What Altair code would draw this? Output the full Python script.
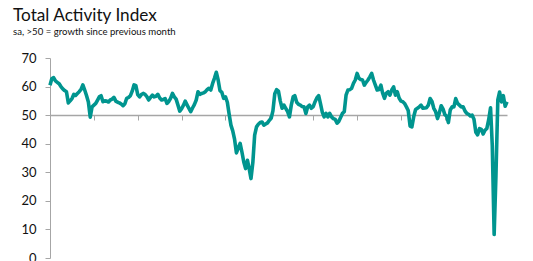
import altair as alt
import pandas as pd

TITLE = "Total Activity Index"
SUBTITLE = "sa, >50 = growth since previous month"

# Monthly index values, Jan 2000 - Nov 2020
v2000 = [60.5, 62.8, 63.1, 62.0, 61.5, 61.0, 60.0, 59.2, 58.6, 58.2, 54.3, 55.0]
v2001 = [55.8, 57.3, 56.9, 57.6, 58.2, 59.0, 60.6, 58.8, 56.8, 54.6, 49.3, 52.9]
v2002 = [53.5, 54.1, 55.2, 56.4, 56.8, 54.7, 55.0, 54.9, 54.6, 55.3, 55.6, 56.2]
v2003 = [54.9, 54.5, 54.3, 53.9, 53.3, 54.0, 55.9, 56.2, 56.8, 58.4, 60.6, 60.3]
v2004 = [57.2, 56.4, 57.2, 57.6, 57.3, 56.5, 55.3, 56.2, 57.0, 56.4, 56.6, 57.3]
v2005 = [56.0, 55.3, 55.5, 55.8, 54.1, 54.8, 55.9, 57.6, 56.4, 55.6, 53.5, 51.4]
v2006 = [52.3, 53.5, 54.9, 53.6, 52.4, 51.2, 52.5, 53.7, 55.3, 58.2, 57.3, 57.6]
v2007 = [57.8, 58.2, 58.9, 59.4, 58.8, 61.1, 62.9, 65.0, 62.3, 58.6, 58.0, 55.9]
v2008 = [56.4, 54.5, 50.5, 46.5, 44.5, 41.5, 36.8, 38.5, 40.1, 37.1, 33.6, 31.3]
v2009 = [34.2, 31.0, 27.8, 33.5, 43.0, 45.9, 46.8, 47.4, 47.6, 46.5, 46.9, 47.3]
v2010 = [48.2, 49.0, 51.5, 57.5, 58.9, 58.4, 55.0, 52.4, 53.5, 52.4, 51.2, 49.4]
v2011 = [53.5, 56.4, 56.8, 54.5, 53.8, 53.5, 53.0, 52.9, 50.6, 52.9, 53.5, 52.4]
v2012 = [53.0, 54.7, 56.0, 56.8, 54.0, 51.0, 49.4, 50.6, 49.4, 50.6, 49.4, 48.8]
v2013 = [48.5, 47.2, 47.8, 49.2, 50.6, 51.2, 57.0, 58.8, 58.9, 59.4, 61.1, 62.3]
v2014 = [64.6, 62.9, 62.5, 62.3, 60.5, 61.5, 62.3, 63.4, 64.6, 62.3, 60.5, 58.8]
v2015 = [59.0, 60.5, 57.8, 55.9, 57.6, 58.2, 57.0, 58.8, 59.9, 57.0, 58.2, 56.0]
v2016 = [54.9, 54.7, 54.1, 52.9, 51.6, 46.2, 45.9, 49.5, 52.0, 52.4, 52.9, 53.5]
v2017 = [52.4, 52.5, 52.6, 53.5, 55.8, 54.8, 52.4, 51.2, 48.8, 50.8, 53.3, 52.2]
v2018 = [50.2, 49.6, 47.4, 51.8, 52.9, 52.9, 55.8, 54.1, 53.5, 52.9, 52.9, 51.5]
v2019 = [50.6, 50.3, 49.7, 50.0, 48.6, 44.0, 43.1, 45.3, 45.0, 43.4, 44.7, 45.3]
v2020 = [48.4, 52.6, 39.3, 8.2, 28.9, 55.3, 58.1, 54.6, 56.8, 53.1, 54.7]

values = (v2000 + v2001 + v2002 + v2003 + v2004 + v2005 + v2006 + v2007 + v2008
          + v2009 + v2010 + v2011 + v2012 + v2013 + v2014 + v2015 + v2016 + v2017
          + v2018 + v2019 + v2020)
dates = pd.date_range("2000-01-01", periods=len(values), freq="MS").strftime("%Y-%m-%d").tolist()

y_ticks = [0, 10, 20, 30, 40, 50, 60, 70]
x_tick_years = [2002, 2004, 2006, 2008, 2010, 2012, 2014, 2016, 2018, 2020]

df = pd.DataFrame({"date": dates, "value": values})

FONT = "Lato"
GRAY = "#a6a6a6"
TEAL = "#00958f"

x_enc = alt.X(
    "date:T",
    scale=alt.Scale(type="utc", domain=[dates[0], dates[-1]]),
    axis=alt.Axis(
        title=None, labels=False, grid=False, orient="bottom", offset=-143,
        values=[alt.DateTime(year=y, month=1, date=1, utc=True) for y in x_tick_years],
        tickSize=5, tickColor=GRAY, domainColor=GRAY, domainWidth=1.5, tickWidth=1,
    ),
)
y_enc = alt.Y(
    "value:Q",
    scale=alt.Scale(domain=[0, 70], nice=False),
    axis=alt.Axis(
        title=None, values=y_ticks, grid=False, tickSize=5, tickColor=GRAY,
        domainColor=GRAY, domainWidth=1, labelFont=FONT, labelFontSize=13,
        labelColor="#111", labelPadding=9,
    ),
)

line = alt.Chart(df).mark_line(color=TEAL, strokeWidth=3.6, strokeJoin="round").encode(x=x_enc, y=y_enc)

title = alt.Chart(pd.DataFrame({"t": [TITLE]})).mark_text(
    font=FONT, fontSize=17.2, align="left", baseline="alphabetic", color="#111"
).encode(text="t:N", x=alt.value(-37), y=alt.value(-37.5))

subtitle = alt.Chart(pd.DataFrame({"t": [SUBTITLE]})).mark_text(
    font=FONT, fontSize=9.6, align="left", baseline="alphabetic", color="#111"
).encode(text="t:N", x=alt.value(-37), y=alt.value(-23))

chart = alt.layer(line, title, subtitle).properties(
    width=457, height=200,
    padding={"left": 50, "top": 58, "right": 26, "bottom": 3},
    autosize=alt.AutoSizeParams(type="none"),
).configure_view(stroke=None)

chart.save("out.html", embed_options={"renderer": "svg", "actions": False})
